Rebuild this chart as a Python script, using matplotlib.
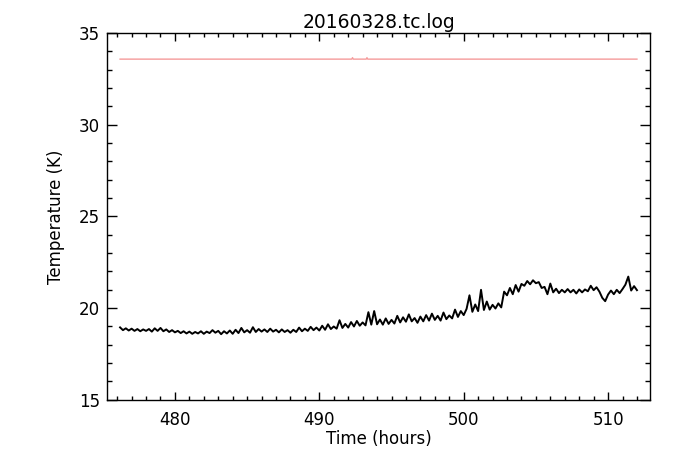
import numpy as np
import matplotlib
matplotlib.use("Agg")
import matplotlib.pyplot as plt
from matplotlib.ticker import MultipleLocator

# sample times (hours) of the tc log, one row per hour
hours = [
    476.2, 476.4, 476.6, 476.8, 477.0,
    477.2, 477.4, 477.6, 477.8, 478.0,
    478.2, 478.4, 478.6, 478.8, 479.0,
    479.2, 479.4, 479.6, 479.8, 480.0,
    480.2, 480.4, 480.6, 480.8, 481.0,
    481.2, 481.4, 481.6, 481.8, 482.0,
    482.2, 482.4, 482.6, 482.8, 483.0,
    483.2, 483.4, 483.6, 483.8, 484.0,
    484.2, 484.4, 484.6, 484.8, 485.0,
    485.2, 485.4, 485.6, 485.8, 486.0,
    486.2, 486.4, 486.6, 486.8, 487.0,
    487.2, 487.4, 487.6, 487.8, 488.0,
    488.2, 488.4, 488.6, 488.8, 489.0,
    489.2, 489.4, 489.6, 489.8, 490.0,
    490.2, 490.4, 490.6, 490.8, 491.0,
    491.2, 491.4, 491.6, 491.8, 492.0,
    492.2, 492.4, 492.6, 492.8, 493.0,
    493.2, 493.4, 493.6, 493.8, 494.0,
    494.2, 494.4, 494.6, 494.8, 495.0,
    495.2, 495.4, 495.6, 495.8, 496.0,
    496.2, 496.4, 496.6, 496.8, 497.0,
    497.2, 497.4, 497.6, 497.8, 498.0,
    498.2, 498.4, 498.6, 498.8, 499.0,
    499.2, 499.4, 499.6, 499.8, 500.0,
    500.2, 500.4, 500.6, 500.8, 501.0,
    501.2, 501.4, 501.6, 501.8, 502.0,
    502.2, 502.4, 502.6, 502.8, 503.0,
    503.2, 503.4, 503.6, 503.8, 504.0,
    504.2, 504.4, 504.6, 504.8, 505.0,
    505.2, 505.4, 505.6, 505.8, 506.0,
    506.2, 506.4, 506.6, 506.8, 507.0,
    507.2, 507.4, 507.6, 507.8, 508.0,
    508.2, 508.4, 508.6, 508.8, 509.0,
    509.2, 509.4, 509.6, 509.8, 510.0,
    510.2, 510.4, 510.6, 510.8, 511.0,
    511.2, 511.4, 511.6, 511.8, 512.0,
]

# measured temperature (K)
temp = [
    18.95, 18.80, 18.90, 18.78, 18.88,
    18.76, 18.86, 18.74, 18.84, 18.76,
    18.86, 18.72, 18.90, 18.76, 18.92,
    18.74, 18.84, 18.70, 18.80, 18.68,
    18.76, 18.64, 18.74, 18.62, 18.72,
    18.60, 18.70, 18.62, 18.74, 18.60,
    18.72, 18.64, 18.80, 18.66, 18.76,
    18.58, 18.74, 18.62, 18.78, 18.60,
    18.82, 18.64, 18.92, 18.68, 18.80,
    18.66, 18.96, 18.70, 18.86, 18.72,
    18.84, 18.70, 18.88, 18.72, 18.82,
    18.68, 18.84, 18.70, 18.80, 18.66,
    18.82, 18.70, 18.94, 18.74, 18.88,
    18.76, 18.98, 18.80, 18.94, 18.78,
    19.04, 18.82, 19.12, 18.86, 19.00,
    18.88, 19.34, 18.92, 19.14, 18.94,
    19.24, 19.00, 19.30, 19.04, 19.22,
    19.06, 19.78, 19.10, 19.84, 19.12,
    19.38, 19.10, 19.44, 19.14, 19.36,
    19.16, 19.58, 19.22, 19.50, 19.26,
    19.66, 19.28, 19.46, 19.20, 19.54,
    19.28, 19.62, 19.32, 19.70, 19.36,
    19.58, 19.32, 19.76, 19.40, 19.60,
    19.44, 19.92, 19.52, 19.84, 19.62,
    19.96, 20.70, 19.80, 20.20, 19.84,
    21.00, 19.90, 20.36, 19.92, 20.18,
    19.98, 20.26, 20.04, 20.90, 20.70,
    21.10, 20.76, 21.26, 20.90, 21.32,
    21.22, 21.48, 21.30, 21.52, 21.36,
    21.42, 21.10, 21.16, 20.76, 21.34,
    20.86, 21.06, 20.82, 21.00, 20.86,
    21.04, 20.86, 21.00, 20.80, 21.02,
    20.86, 21.02, 20.92, 21.22, 20.98,
    21.14, 20.90, 20.56, 20.38, 20.74,
    20.96, 20.76, 21.00, 20.82, 21.04,
    21.28, 21.72, 20.96, 21.20, 20.98,
]

# setpoint / limit trace (red)
red_hours = [476.2, 492.25, 492.3, 492.35, 493.25, 493.3, 493.35, 512.0]
red_temp = [33.58, 33.58, 33.66, 33.58, 33.58, 33.66, 33.58, 33.58]

fig = plt.figure(figsize=(6.82, 4.66), dpi=100)
ax = fig.add_axes([0.157, 0.142, 0.796, 0.787])

ax.plot(hours, temp, color='black', lw=1.4)
ax.plot(red_hours, red_temp, color='#f59a9a', lw=1.0)

ax.set_xlim(475.3, 512.9)
ax.set_ylim(15, 35)
ax.xaxis.set_major_locator(MultipleLocator(10))
ax.xaxis.set_minor_locator(MultipleLocator(1))
ax.yaxis.set_major_locator(MultipleLocator(5))
ax.yaxis.set_minor_locator(MultipleLocator(1))

ax.tick_params(which='both', direction='in', top=True, right=True, labelsize=12, width=1)
ax.tick_params(axis='x', which='major', length=6, pad=8)
ax.tick_params(axis='x', which='minor', length=3)
ax.tick_params(axis='y', which='major', length=7, pad=5)
ax.tick_params(axis='y', which='minor', length=3.5)
for s in ax.spines.values():
    s.set_linewidth(1)

ax.set_title('20160328.tc.log', fontsize=13.5, pad=4)
ax.set_xlabel('Time (hours)', fontsize=12, labelpad=1)
ax.set_ylabel('Temperature (K)', fontsize=12, labelpad=10)

plt.savefig('out.png', dpi=100)
